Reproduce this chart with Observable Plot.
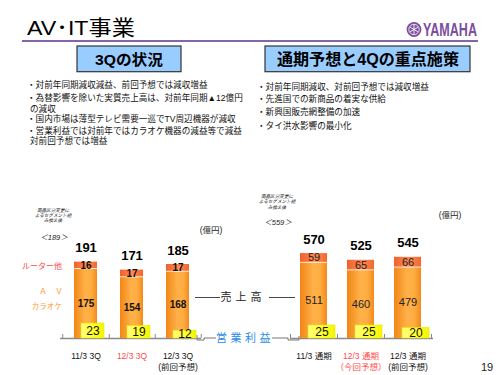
<!DOCTYPE html>
<html><head><meta charset="utf-8">
<script src="https://cdn.jsdelivr.net/npm/d3@7"></script>
<script src="https://cdn.jsdelivr.net/npm/@observablehq/plot@0.6"></script>
<style>
html,body{margin:0;padding:0;background:#fff;}
#page{position:relative;width:500px;height:375px;overflow:hidden;font-family:"Liberation Sans",Arial,"Noto Sans CJK JP",sans-serif;color:#000;}
#page svg{position:absolute;left:0;top:0;}
</style></head><body><div id="page"></div>
<script>
// ---- data ----
const leftCats = ["11/3 3Q", "12/3 3Q", "12/3 3Q 前回予想"];
const leftTickLabels = ["11/3 3Q", "12/3 3Q", "12/3 3Q\n(前回予想)"];
const leftAV = [175, 154, 168];
const leftRouter = [16, 17, 17];
const leftTotal = [191, 171, 185];
const leftProfit = [23, 19, 12];
const leftBefore = "＜189＞";

const rightCats = ["11/3 通期", "12/3 通期 今回予想", "12/3 通期 前回予想"];
const rightTickLabels = ["11/3 通期", "12/3 通期\n（今回予想）", "12/3 通期\n(前回予想)"];
const rightAV = [511, 460, 479];
const rightRouter = [59, 65, 66];
const rightTotal = [570, 525, 545];
const rightProfit = [25, 25, 20];
const rightBefore = "＜559＞";

const highlighted = [1]; // index of current-period category (red)
const leftBullets = [
  ["・対前年同期減収減益、前回予想では減収増益"],
  ["・為替影響を除いた実質売上高は、対前年同期▲12億円", "の減収"],
  ["・国内市場は薄型テレビ需要一巡でTV周辺機器が減収"],
  ["・営業利益では対前年ではカラオケ機器の減益等で減益", "対前回予想では増益"]
];
const rightBullets = [
  "・対前年同期減収、対前回予想では減収増益",
  "・先進国での新商品の着実な供給",
  "・新興国販売網整備の加速",
  "・タイ洪水影響の最小化"
];

const FONT = '"Liberation Sans", Arial, "Noto Sans CJK JP", sans-serif';
const page = document.getElementById("page");

function addDefs(svg, id) {
  const defs = d3.select(svg).insert("defs", ":first-child");
  const grad = (name, stops) => {
    const g = defs.append("linearGradient").attr("id", id + name)
      .attr("x1", 0).attr("x2", 1).attr("y1", 0).attr("y2", 0);
    stops.forEach(([o, c]) => g.append("stop").attr("offset", o).attr("stop-color", c));
  };
  grad("av", [[0, "#f28616"], [0.5, "#ffb24a"], [0.75, "#ffad40"], [1, "#f38a1c"]]);
  grad("rt", [[0, "#f0602a"], [0.55, "#ff8a55"], [1, "#f2682e"]]);
  grad("yl", [[0, "#ffff80"], [0.5, "#ffff33"], [1, "#f5f500"]]);
}

function panel(o) {
  const idx = d3.range(o.cats.length);
  const X = i => o.cats[i];
  const xScale = {type: "band", domain: o.cats, range: o.xRange, padding: o.pad, axis: null};
  const main = Plot.plot({
    width: 500, height: 375,
    marginLeft: o.ruleL, marginRight: 500 - o.ruleR, marginTop: 0, marginBottom: 0,
    style: {background: "transparent", overflow: "visible", fontFamily: FONT},
    x: xScale,
    y: {domain: [0, o.ymax], range: [338, 338 - o.ymax * o.k], axis: null},
    marks: [
      Plot.ruleY([0], {stroke: "#8a8a8a", strokeWidth: 1.3}),
      Plot.ruleX(idx, {x: X, dx: o.step / 2, y1: 0, y2: 4 / o.k, stroke: "#8a8a8a"}),
      Plot.ruleX([0], {x: () => o.cats[0], dx: -o.step / 2, y1: 0, y2: 4 / o.k, stroke: "#8a8a8a"}),
      Plot.barY(idx, {x: X, y1: 0, y2: i => o.av[i], fill: `url(#${o.id}av)`, insetTop: 0.8}),
      Plot.barY(idx, {x: X, y1: i => o.av[i], y2: i => o.av[i] + o.router[i], fill: `url(#${o.id}rt)`}),
      Plot.text(idx, {x: X, y: i => o.av[i] / 2, text: i => String(o.av[i]), ...o.segFont}),
      Plot.text(idx, {x: X, y: i => o.av[i] + o.router[i] / 2, text: i => String(o.router[i]), ...o.segFont}),
      Plot.text(idx, {x: X, y: i => o.total[i], text: i => String(o.total[i]), dy: -14, fontSize: 13, fontWeight: "bold", fill: "#000"}),
      Plot.text(idx, {filter: i => !highlighted.includes(i), x: X, y: 0, text: i => o.ticks[i], dy: 12.5, lineAnchor: "top", lineHeight: 1.3, fontSize: 8.5, fill: "#111"}),
      Plot.text(idx, {filter: i => highlighted.includes(i), x: X, y: 0, text: i => o.ticks[i], dy: 12.5, lineAnchor: "top", lineHeight: 1.3, fontSize: 8.5, fill: "#ff4b4b"})
    ]
  });
  addDefs(main, o.id);
  page.appendChild(main);
  const prof = Plot.plot({
    width: 500, height: 375, margin: 0,
    style: {background: "transparent", overflow: "visible", fontFamily: FONT},
    x: xScale,
    y: {domain: [0, 30], range: [338, 338 - 30 * o.pk], axis: null},
    marks: [
      Plot.barY(idx, {x: X, y1: 0, y2: i => o.profit[i], dx: o.pdx, fill: `url(#${o.id}yl)`, stroke: "#e8e800", strokeWidth: 0.6}),
      Plot.text(idx, {x: X, y: i => o.profit[i] / 2, dx: o.pdx, text: i => String(o.profit[i]), fontSize: 12, fill: "#111"})
    ]
  });
  addDefs(prof, o.id + "p");
  page.appendChild(prof);
}

// static decoration layer (title, boxes, bullets, labels)
function deco() {
  const lb = [];
  const leftY = [[85], [98, 108.5], [119], [131, 141]];
  leftBullets.forEach((lines, i) => lines.forEach((t, j) =>
    lb.push(`<text x="${j ? 30 : 27}" y="${leftY[i][j]}" font-size="8.6" dominant-baseline="central">${t}</text>`)));
  const rightY = [86.7, 99.3, 111.7, 125.7];
  rightBullets.forEach((t, i) =>
    lb.push(`<text x="257" y="${rightY[i]}" font-size="8.6" dominant-baseline="central">${t}</text>`));
  const note = (cx, ys, before, by) => `
    <g font-style="italic" font-size="4.6" fill="#222" text-anchor="middle">
      <text x="${cx}" y="${ys[0]}" dominant-baseline="central">商品区分変更に</text>
      <text x="${cx}" y="${ys[1]}" dominant-baseline="central">よるセグメント組</text>
      <text x="${cx}" y="${ys[2]}" dominant-baseline="central">み換え後</text>
    </g>
    <text x="${cx + 1}" y="${by}" font-style="italic" font-size="7.5" text-anchor="middle" dominant-baseline="central" fill="#222">${before}</text>`;
  return `<svg width="500" height="375" style="font-family:${FONT.replace(/"/g, "'")}">
    <text x="27" y="35" font-size="21" textLength="108" lengthAdjust="spacingAndGlyphs">AV･IT事業</text>
    <rect x="22" y="40" width="456" height="2" fill="#8466a6"/>
    <g transform="translate(414,29.5)">
      <circle r="7.4" fill="#7b4f9e"/>
      <circle r="5.2" fill="none" stroke="#fff" stroke-width="0.8"/>
      <g stroke="#fff" stroke-width="0.9">
        <line x1="0" y1="-4.5" x2="0" y2="4.5"/>
        <line x1="-3.9" y1="-2.25" x2="3.9" y2="2.25"/>
        <line x1="-3.9" y1="2.25" x2="3.9" y2="-2.25"/>
      </g>
    </g>
    <text x="423" y="35.5" font-size="18" font-weight="bold" fill="#7b4f9e" textLength="54" lengthAdjust="spacingAndGlyphs" style="font-family:'Liberation Sans Narrow','Liberation Sans',sans-serif">YAMAHA</text>
    <rect x="77" y="46" width="104" height="25.7" fill="#99ccff" stroke="#333" stroke-width="1.2"/>
    <text x="129" y="59" font-size="15" font-weight="bold" text-anchor="middle" dominant-baseline="central" textLength="68" lengthAdjust="spacingAndGlyphs">3Qの状況</text>
    <rect x="265" y="46" width="205" height="25.7" fill="#99ccff" stroke="#333" stroke-width="1.2"/>
    <text x="368" y="59" font-size="16" font-weight="bold" text-anchor="middle" dominant-baseline="central" textLength="182" lengthAdjust="spacingAndGlyphs">通期予想と4Qの重点施策</text>
    <g fill="#111">${lb.join("")}</g>
    ${note(53, [210, 215, 220], leftBefore, 237.5)}
    ${note(277, [196, 201.5, 207], rightBefore, 222)}
    <text x="62" y="266" font-size="8" fill="#ff4b4b" text-anchor="end" dominant-baseline="central">ルーター他</text>
    <text x="63" y="291" font-size="8" fill="#ff9a2e" text-anchor="end" dominant-baseline="central">Ａ　Ｖ</text>
    <text x="62" y="306" font-size="7.6" fill="#ff9a2e" text-anchor="end" dominant-baseline="central">カラオケ</text>
    <text x="211" y="230" font-size="8.5" text-anchor="middle" dominant-baseline="central" fill="#222">(億円)</text>
    <text x="450" y="215" font-size="8.5" text-anchor="middle" dominant-baseline="central" fill="#222">(億円)</text>
    <line x1="195" x2="220" y1="297.5" y2="297.5" stroke="#333" stroke-width="0.9"/>
    <line x1="269" x2="295" y1="297.5" y2="297.5" stroke="#333" stroke-width="0.9"/>
    <text x="243" y="297" font-size="11" text-anchor="middle" dominant-baseline="central" letter-spacing="4" fill="#222">売上高</text>
    <polyline points="197,335 197,340 204,340 204,338 216,338" fill="none" stroke="#666" stroke-width="0.9"/>
    <polyline points="272,338 288,338 288,340 299,340 299,336" fill="none" stroke="#666" stroke-width="0.9"/>
    <text x="245" y="338" font-size="11" text-anchor="middle" dominant-baseline="central" letter-spacing="3.5" fill="#2b8be6">営業利益</text>
    <text x="487" y="367" font-size="11" text-anchor="middle" dominant-baseline="central" fill="#222">19</text>
  </svg>`;
}
page.insertAdjacentHTML("beforeend", deco());

panel({id: "L", cats: leftCats, ticks: leftTickLabels, av: leftAV, router: leftRouter, total: leftTotal, profit: leftProfit,
  xRange: [49.6, 212.4], pad: 0.5, step: 46.5, ruleL: 60, ruleR: 201, ymax: 200, k: 0.4, pk: 0.65, pdx: 7,
  segFont: {fontSize: 10, fontWeight: "bold", letterSpacing: 1, fill: "#111"}});
panel({id: "R", cats: rightCats, ticks: rightTickLabels, av: rightAV, router: rightRouter, total: rightTotal, profit: rightProfit,
  xRange: [280, 441], pad: 0.4255, step: 47, ruleL: 290, ruleR: 433, ymax: 600, k: 0.149, pk: 0.52, pdx: 8,
  segFont: {fontSize: 11, fill: "#222"}});
</script></body></html>
